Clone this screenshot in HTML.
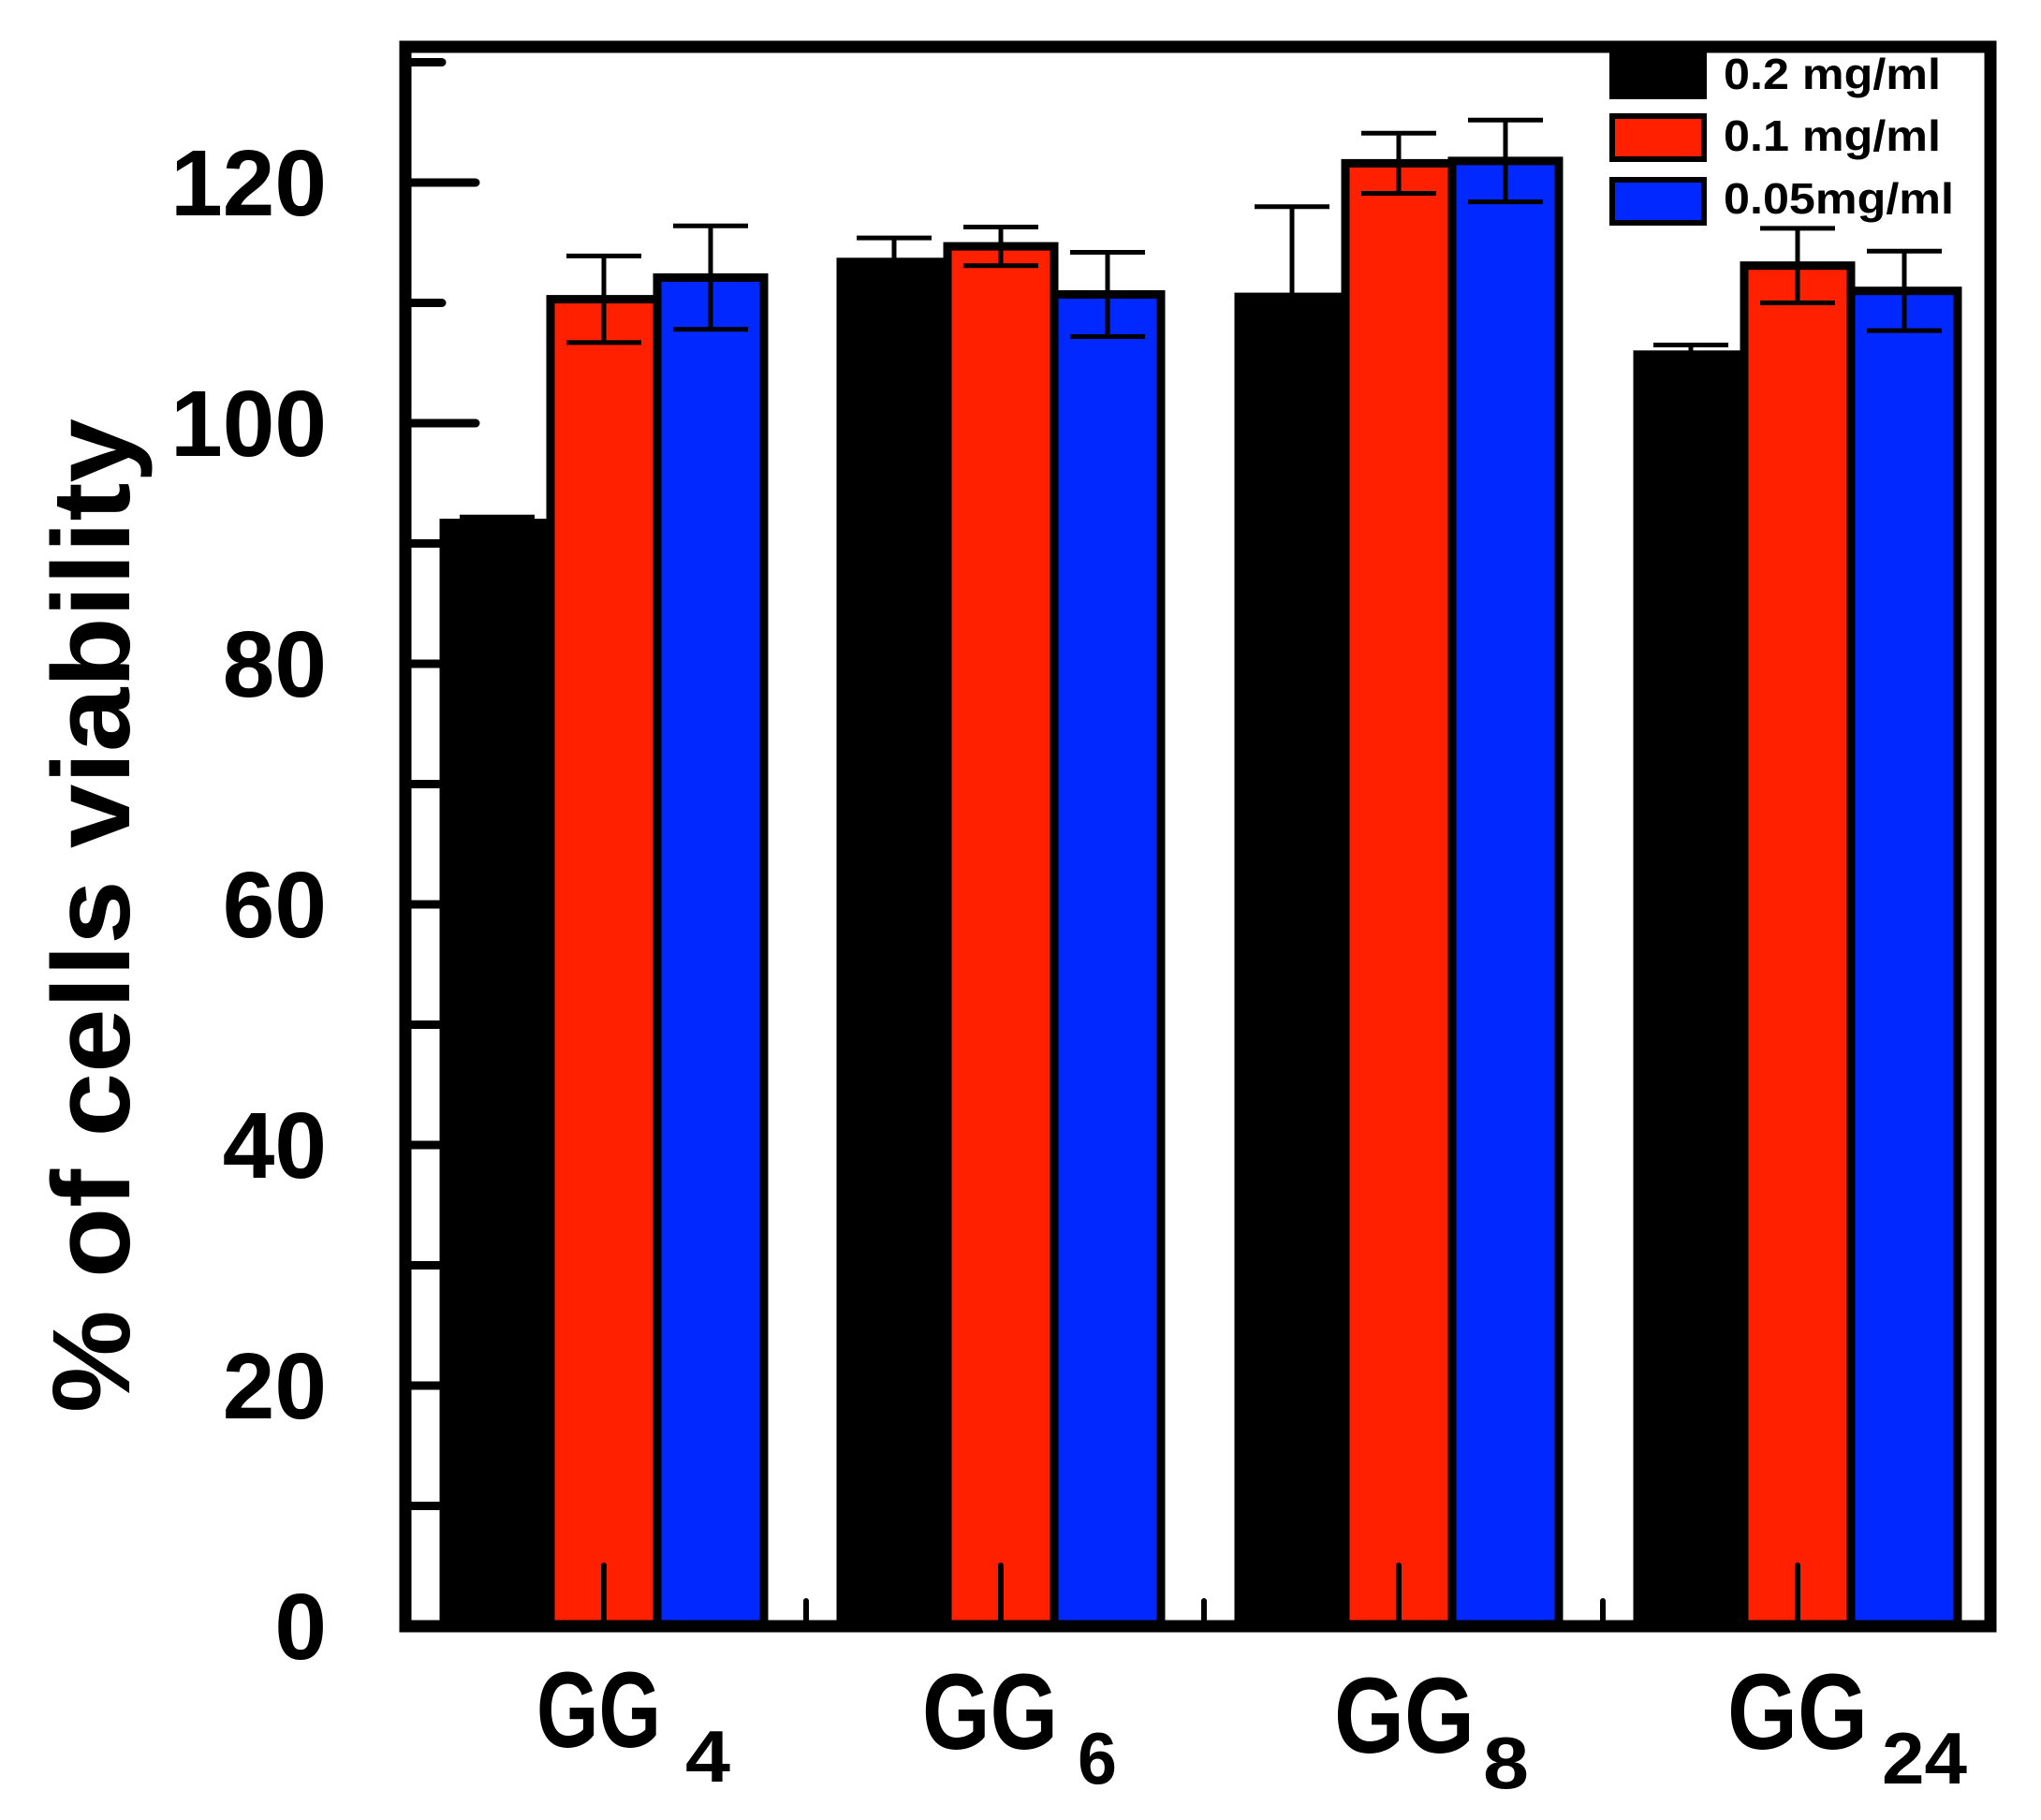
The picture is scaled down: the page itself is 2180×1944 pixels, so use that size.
<!DOCTYPE html>
<html><head><meta charset="utf-8"><style>html,body{margin:0;padding:0;background:#fff}svg{display:block}</style></head>
<body>
<svg width="2180" height="1944" viewBox="0 0 2180 1944" xmlns="http://www.w3.org/2000/svg" font-family="'Liberation Sans', Arial, sans-serif" font-weight="bold">
<rect width="2180" height="1944" fill="#fff"/>
<g stroke="#000" stroke-width="9">
<rect x="474" y="558.6" width="114" height="1178.4" fill="#000"/>
<rect x="588" y="319.6" width="114" height="1417.4" fill="#ff2000"/>
<rect x="702" y="296.5" width="114" height="1440.5" fill="#0028ff"/>
<rect x="898" y="279.8" width="114" height="1457.2" fill="#000"/>
<rect x="1012" y="263.1" width="114" height="1473.9" fill="#ff2000"/>
<rect x="1126" y="314.5" width="114" height="1422.5" fill="#0028ff"/>
<rect x="1323" y="317.1" width="114" height="1419.9" fill="#000"/>
<rect x="1437" y="174.4" width="114" height="1562.6" fill="#ff2000"/>
<rect x="1551" y="171.9" width="114" height="1565.1" fill="#0028ff"/>
<rect x="1749" y="378.8" width="114" height="1358.2" fill="#000"/>
<rect x="1863" y="283.7" width="114" height="1453.3" fill="#ff2000"/>
<rect x="1977" y="310.7" width="114" height="1426.3" fill="#0028ff"/>
</g>
<g stroke="#000" stroke-width="5" fill="none">
<path d="M531 552.2V565 M491 552.2H571 M491 565H571"/>
<path d="M645 273.4V365.9 M605 273.4H685 M605 365.9H685"/>
<path d="M759 241.2V351.7 M719 241.2H799 M719 351.7H799"/>
<path d="M955 254.1V305.5 M915 254.1H995 M915 305.5H995"/>
<path d="M1069 242.5V283.7 M1029 242.5H1109 M1029 283.7H1109"/>
<path d="M1183 269.5V359.5 M1143 269.5H1223 M1143 359.5H1223"/>
<path d="M1380 220.7V413.5 M1340 220.7H1420 M1340 413.5H1420"/>
<path d="M1494 142.3V206.5 M1454 142.3H1534 M1454 206.5H1534"/>
<path d="M1608 128.2V215.6 M1568 128.2H1648 M1568 215.6H1648"/>
<path d="M1806 368.5V389.1 M1766 368.5H1846 M1766 389.1H1846"/>
<path d="M1920 243.9V323.5 M1880 243.9H1960 M1880 323.5H1960"/>
<path d="M2034 268.3V353.1 M1994 268.3H2074 M1994 353.1H2074"/>
</g>
<g stroke="#000" stroke-width="6" stroke-linecap="round">
<path d="M645 1737V1672 M1069 1737V1672 M1494 1737V1672 M1920 1737V1672"/>
<path d="M861 1737V1710 M1286 1737V1710 M1712 1737V1710"/>
</g>
<g stroke="#000" stroke-width="9" stroke-linecap="round">
<path d="M433 1480H508 M433 1223H508 M433 966H508 M433 709H508 M433 452H508 M433 195H508"/>
<path d="M433 1608.5H472 M433 1351.5H472 M433 1094.5H472 M433 837.5H472 M433 580.5H472 M433 323.5H472 M433 66.5H472"/>
</g>
<rect x="433" y="50" width="1693" height="1687" fill="none" stroke="#000" stroke-width="13"/>
<g font-size="100" text-anchor="end" fill="#000">
<text x="349" y="1772">0</text>
<text x="349" y="1515">20</text>
<text x="349" y="1258">40</text>
<text x="349" y="1001">60</text>
<text x="349" y="744">80</text>
<text x="349" y="487">100</text>
<text x="349" y="230">120</text>
</g>
<text transform="translate(138,978) rotate(-90)" font-size="118" text-anchor="middle" textLength="1062" lengthAdjust="spacingAndGlyphs" fill="#000">% of cells viability</text>
<g fill="#000">
<text x="573" y="1866" font-size="115" textLength="133" lengthAdjust="spacingAndGlyphs">GG</text>
<text x="732" y="1903" font-size="78" textLength="48" lengthAdjust="spacingAndGlyphs">4</text>
<text x="985" y="1868" font-size="115" textLength="145" lengthAdjust="spacingAndGlyphs">GG</text>
<text x="1151" y="1905" font-size="78" textLength="42" lengthAdjust="spacingAndGlyphs">6</text>
<text x="1425" y="1872" font-size="115" textLength="150" lengthAdjust="spacingAndGlyphs">GG</text>
<text x="1584" y="1910" font-size="78" textLength="49" lengthAdjust="spacingAndGlyphs">8</text>
<text x="1845" y="1868" font-size="115" textLength="150" lengthAdjust="spacingAndGlyphs">GG</text>
<text x="2010" y="1905" font-size="78" textLength="91" lengthAdjust="spacingAndGlyphs">24</text>
</g>
<rect x="1722" y="55" width="98" height="48" fill="#000" stroke="#000" stroke-width="6"/>
<rect x="1722" y="124" width="98" height="46" fill="#ff2000" stroke="#000" stroke-width="6"/>
<rect x="1722" y="192" width="98" height="46" fill="#0028ff" stroke="#000" stroke-width="6"/>
<g font-size="46" fill="#000">
<text x="1841" y="95" textLength="232" lengthAdjust="spacingAndGlyphs">0.2 mg/ml</text>
<text x="1841" y="161" textLength="232" lengthAdjust="spacingAndGlyphs">0.1 mg/ml</text>
<text x="1841" y="228" textLength="246" lengthAdjust="spacingAndGlyphs">0.05mg/ml</text>
</g>
</svg>
</body></html>
